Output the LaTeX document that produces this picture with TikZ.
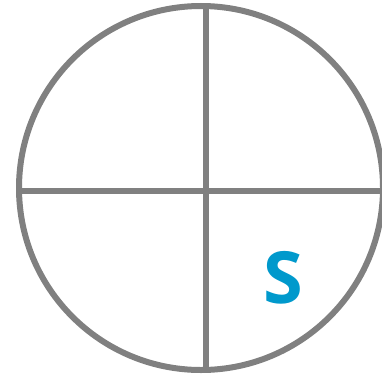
\documentclass[tikz,border=0pt]{standalone}
\usepackage{fontspec}
\setmainfont{Open Sans}
\definecolor{ringgray}{RGB}{128,128,128}
\definecolor{sblue}{RGB}{0,153,204}
\tikzset{ring/.style={draw=ringgray,line width=6pt}}
\begin{document}
\begin{tikzpicture}[x=1pt,y=1pt]
\useasboundingbox (0,0) rectangle (382,376);
\draw[ring] (201,188) circle (182);
\draw[ring] (206,6.5) -- (206,369.5);
\draw[ring] (19.5,185.5) -- (382,185.5);
\node[text=sblue,font=\fontsize{72}{72}\selectfont\bfseries,inner sep=0pt] (s) at (283.5,98) {S};
\end{tikzpicture}
\end{document}
